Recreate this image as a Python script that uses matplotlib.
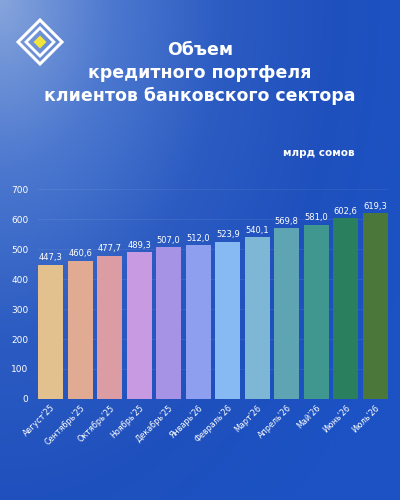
import numpy as np
import matplotlib
matplotlib.use("Agg")
import matplotlib.pyplot as plt
from matplotlib.patches import Polygon
from matplotlib.colors import LinearSegmentedColormap

months = ["Август'25", "Сентябрь'25", "Октябрь'25", "Ноябрь'25", "Декабрь'25",
          "Январь'26", "Февраль'26", "Март'26", "Апрель'26", "Май'26",
          "Июнь'26", "Июль'26"]
values = [447.3, 460.6, 477.7, 489.3, 507.0, 512.0, 523.9, 540.1, 569.8,
          581.0, 602.6, 619.3]
bar_colors = ["#e3c18f", "#e1aa92", "#dc9ca4", "#c79ae2", "#a793e6", "#8f9ff0",
              "#87b9f2", "#7eb6d6", "#5fa4b2", "#3f978f", "#2a7f5f", "#4b773a"]
y_ticks = [0, 100, 200, 300, 400, 500, 600, 700]

plt.rcParams["font.family"] = ["DejaVu Sans"]

fig = plt.figure(figsize=(4, 5), dpi=100)

# background gradient, drawn in pixel coordinates
bg = fig.add_axes([0, 0, 1, 1])
yy, xx = np.mgrid[0:1:200j, 0:1:160j]
t = np.clip(np.sqrt((0.9 * xx) ** 2 + (0.75 * yy) ** 2), 0, 1)
cmap = LinearSegmentedColormap.from_list(
    "bg", ["#86a4dc", "#4c78cf", "#2c5cc2", "#1f50bd", "#1c52c4"])
bg.imshow(t, cmap=cmap, aspect="auto", extent=[0, 400, 500, 0])
bg.set_xlim(0, 400)
bg.set_ylim(500, 0)
bg.axis("off")

# logo
def diamond(cx, cy, r):
    return [(cx, cy - r), (cx + r, cy), (cx, cy + r), (cx - r, cy)]

bg.add_patch(Polygon(diamond(40, 42, 22), closed=True, fill=False,
                     edgecolor="white", linewidth=2.2))
bg.add_patch(Polygon(diamond(40, 42, 14), closed=True, fill=False,
                     edgecolor="white", linewidth=2.0))
bg.add_patch(Polygon(diamond(40, 42, 6.5), closed=True, facecolor="#f3e43a",
                     edgecolor="none"))

# titles
for i, line in enumerate(["Объем", "кредитного портфеля",
                          "клиентов банковского сектора"]):
    bg.text(200, 50 + 23 * i, line, color="white", fontsize=12.5,
            fontweight="semibold", ha="center", va="center")
bg.text(319, 153, "млрд сомов", color="white", fontsize=7.5,
        fontweight="bold", ha="center", va="center")

ax = fig.add_axes([38 / 400, 1 - 399 / 500, 350 / 400, 210 / 500])
ax.patch.set_alpha(0)
x = np.arange(len(values))
ax.bar(x, values, width=0.85, color=bar_colors, zorder=3)
for xi, v in zip(x, values):
    ax.text(xi, v + 8, f"{v:.1f}".replace(".", ","), ha="center", va="bottom",
            color="white", fontsize=6)

ax.set_ylim(0, 700)
ax.set_xlim(-0.43, 11.43)
ax.set_yticks(y_ticks)
ax.yaxis.grid(True, color="white", alpha=0.07, linewidth=0.8, zorder=0)
ax.set_xticks(x)
ax.set_xticklabels(months, rotation=45, ha="right", rotation_mode="anchor",
                   color="white", fontsize=5.8)
ax.tick_params(axis="y", colors="white", labelsize=6.5, length=0, pad=7)
ax.tick_params(axis="x", length=0, pad=3)
for s in ax.spines.values():
    s.set_visible(False)

fig.savefig("out.png", dpi=100)
